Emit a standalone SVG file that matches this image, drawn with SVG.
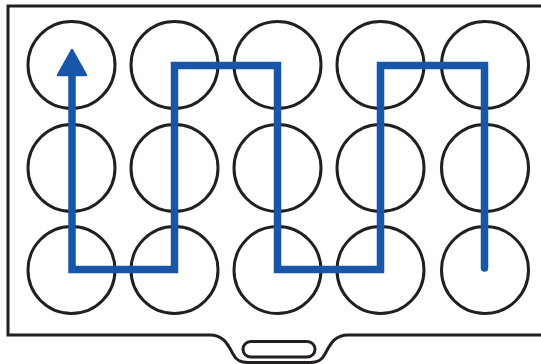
<svg xmlns="http://www.w3.org/2000/svg" width="541" height="364" viewBox="0 0 541 364">
<style>
.ln{fill:none;stroke:#231f20;stroke-width:3}
.w{fill:none;stroke:#231f20;stroke-width:3}
.p{fill:none;stroke:#1756a9;stroke-width:7.5;stroke-linejoin:miter;stroke-linecap:round}
</style>
<g id="tray">
<path class="ln" d="M545,6 H8 V335 H210 C224,335 228,345 233,354 C236,360 240,362.5 248,362.5 H310 C318,362.5 322,360 325,354 C330,345 334,335 348,335 H545"/>
<rect class="ln" x="243" y="341.5" width="72" height="15.5" rx="7.75"/>
</g>
<g id="wells">
<circle id="w11" class="w" cx="71.5" cy="65" r="43.5"/>
<circle id="w12" class="w" cx="174.5" cy="65" r="43.5"/>
<circle id="w13" class="w" cx="277.5" cy="65" r="43.5"/>
<circle id="w14" class="w" cx="380.5" cy="65" r="43.5"/>
<circle id="w15" class="w" cx="485" cy="65" r="43.5"/>
<circle id="w21" class="w" cx="71.5" cy="168" r="43.5"/>
<circle id="w22" class="w" cx="174.5" cy="168" r="43.5"/>
<circle id="w23" class="w" cx="277.5" cy="168" r="43.5"/>
<circle id="w24" class="w" cx="380.5" cy="168" r="43.5"/>
<circle id="w25" class="w" cx="485" cy="168" r="43.5"/>
<circle id="w31" class="w" cx="71.5" cy="270" r="43.5"/>
<circle id="w32" class="w" cx="174.5" cy="270" r="43.5"/>
<circle id="w33" class="w" cx="277.5" cy="270" r="43.5"/>
<circle id="w34" class="w" cx="380.5" cy="270" r="43.5"/>
<circle id="w35" class="w" cx="485" cy="270" r="43.5"/>
</g>
<g id="connectors">
<path class="p" d="M484.5,268 V65.5 H380.5 V269.5 H277.5 V65.5 H174.5 V269.5 H72 V72"/>
<path d="M72,50 L86,75 H58 Z" fill="#1756a9" stroke="#1756a9" stroke-width="2.5" stroke-linejoin="round"/>
</g>
</svg>
